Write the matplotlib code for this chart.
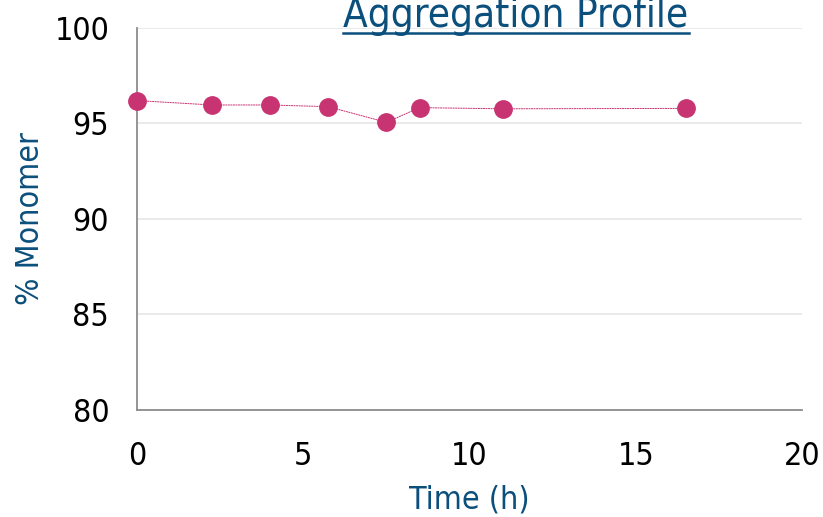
import matplotlib
matplotlib.use("Agg")
import matplotlib.pyplot as plt
from matplotlib.lines import Line2D

time_h = [0, 2.25, 4, 5.75, 7.5, 8.5, 11, 16.5]
monomer = [96.2, 95.97, 95.97, 95.88, 95.06, 95.83, 95.77, 95.79]
x_ticks = [0, 5, 10, 15, 20]
y_ticks = [80, 85, 90, 95, 100]

blue = "#0b4f7c"
pink = "#c83372"
plt.rcParams["font.family"] = "DejaVu Sans"
plt.rcParams["font.stretch"] = "condensed"

fig = plt.figure(figsize=(8.23, 5.17), dpi=100)
ax = fig.add_axes([137/823, 1 - 410/517, (802-137)/823, (410-28)/517])

ax.plot(time_h, monomer, color=pink, lw=0.7, ls=(0, (2, 0.6)), zorder=3)
ax.plot(time_h, monomer, ls="none", marker="o", ms=12.5, color=pink, zorder=4,
        clip_on=False)

ax.set_xlim(0, 20)
ax.set_ylim(80, 100)
ax.set_xticks(x_ticks)
ax.set_yticks(y_ticks)
ax.tick_params(length=0, labelsize=23)
ax.tick_params(axis="y", pad=20)
ax.tick_params(axis="x", pad=22)
ax.grid(axis="y", color="#e6e6e6", lw=1.2)
ax.set_axisbelow(True)
for s in ["top", "right"]:
    ax.spines[s].set_visible(False)
for s in ["left", "bottom"]:
    ax.spines[s].set_color("#8c8c8c")
    ax.spines[s].set_linewidth(1.3)

ax.set_xlabel("Time (h)", color=blue, fontsize=23, va="center")
ax.xaxis.set_label_coords(0.5, (410 - 500) / 382)
ax.set_ylabel("% Monomer", color=blue, fontsize=23, va="center")
ax.yaxis.set_label_coords((31 - 137) / 665, 0.5)

title = fig.text(516/823, 1 - 27/517, "Aggregation Profile", color=blue,
                 fontsize=29, ha="center", va="baseline")
fig.canvas.draw()
bb = title.get_window_extent().transformed(fig.transFigure.inverted())
uy = 1 - 33/517
fig.add_artist(Line2D([bb.x0, bb.x1], [uy, uy], color=blue, lw=1.8))

fig.savefig("out.png", dpi=100)
